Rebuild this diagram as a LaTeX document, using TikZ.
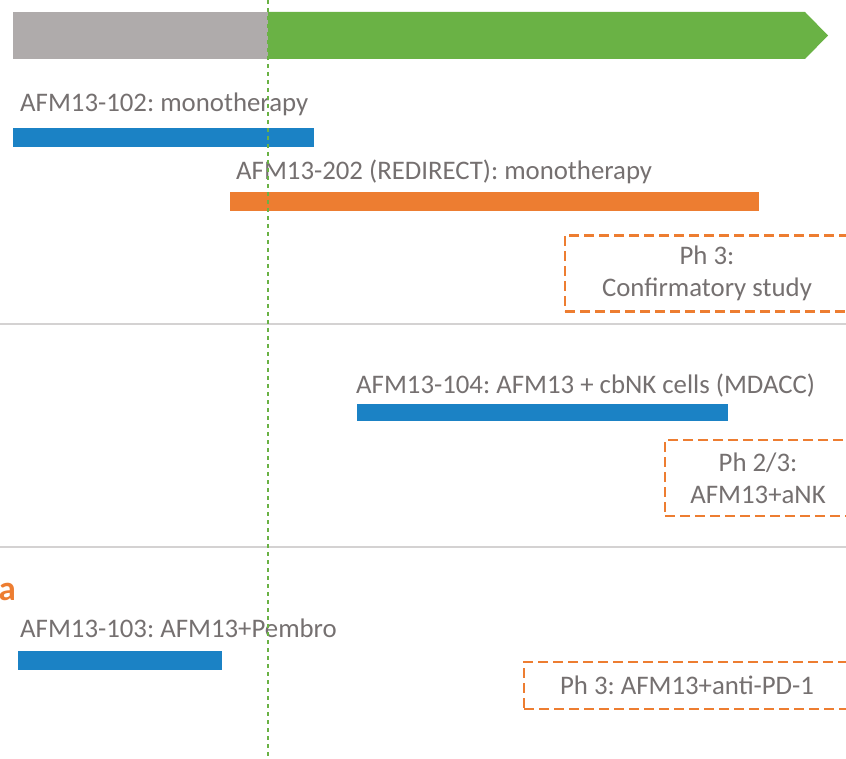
\documentclass[tikz,border=0pt]{standalone}
\usepackage{fontspec}
\setmainfont{Carlito}
\frenchspacing
\definecolor{txtgray}{HTML}{757070}
\definecolor{bargray}{HTML}{AFABAB}
\definecolor{bargreen}{HTML}{6AB245}
\definecolor{barblue}{HTML}{1B82C5}
\definecolor{barorange}{HTML}{ED7D31}
\definecolor{sepgray}{HTML}{D4D2D2}
\begin{document}
\begin{tikzpicture}[x=1pt,y=-1pt,
  lbl/.style={anchor=base west,inner sep=0pt,text=txtgray,font=\fontsize{26.8}{32}\selectfont},
  phasebox/.style={draw=barorange,line width=2.7pt,dash pattern=on 10pt off 5pt,text=txtgray,
     font=\fontsize{26.8}{32}\selectfont,align=center,inner sep=0pt},
  sep/.style={draw=sepgray,line width=1.3pt}]
\clip (0,0) rectangle (846,759);
\useasboundingbox (0,0) rectangle (846,759);
% timeline arrow
\fill[bargray] (13,12) rectangle (268,59);
\fill[bargreen] (268,12) -- (805,12) -- (828,35.5) -- (805,59) -- (268,59) -- cycle;
% separators
\coordinate (s1l) at (0,324); \coordinate (s1r) at (846,324);
\coordinate (s2l) at (0,547); \coordinate (s2r) at (846,547);
\draw[sep] (s1l) -- (s1r);
\draw[sep] (s2l) -- (s2r);
% section 1
\node[lbl] (t102) at (20,112) {AFM13-102: monotherapy};
\fill[barblue] (13,128) rectangle (314,147);
\node[lbl] (t202) at (236,180) {AFM13-202 (REDIRECT): monotherapy};
\fill[barorange] (230,192) rectangle (759,211);
\node[phasebox,minimum width=284pt,minimum height=76pt] (p1) at (707,273.5) {Ph 3:\\Confirmatory study};
% section 2
\node[lbl] (t104) at (356,393) {AFM13-104: AFM13 + cbNK cells (MDACC)};
\fill[barblue] (357,404) rectangle (728,421);
\node[phasebox,minimum width=186pt,minimum height=76pt] (p2) at (758,478) {Ph 2/3:\\AFM13+aNK};
% section 3
\node[anchor=base east,inner sep=0pt,text=barorange,font=\fontsize{35}{40}\selectfont\bfseries] (ta) at (16,600) {a};
\node[lbl] (t103) at (20,637) {AFM13-103: AFM13+Pembro};
\fill[barblue] (18,651) rectangle (222,670);
\node[phasebox,minimum width=326pt,minimum height=47pt] (p3) at (687,685.5) {Ph 3: AFM13+anti-PD-1};
% today line
\coordinate (vt) at (268,0); \coordinate (vb) at (268,759);
\draw[bargreen,line width=1.2pt,dash pattern=on 4pt off 4pt] (vt) -- (vb);
\end{tikzpicture}
\end{document}
